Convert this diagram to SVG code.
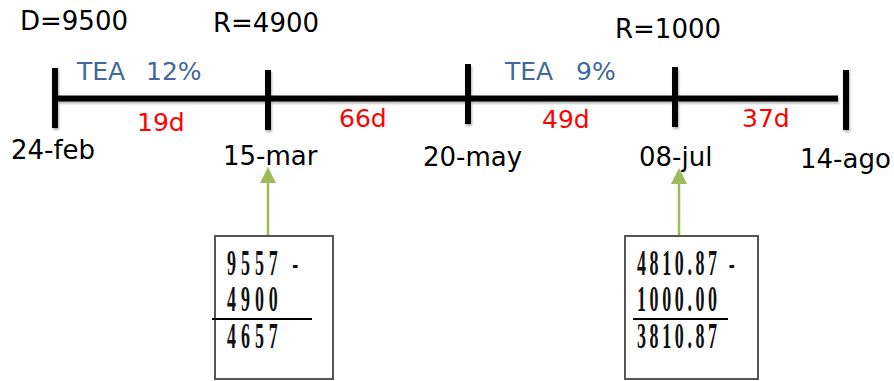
<svg xmlns="http://www.w3.org/2000/svg" width="894" height="381" viewBox="0 0 894 381">
<style>
.lbl{font-family:"DejaVu Sans","Verdana",sans-serif;font-size:26px;fill:#000}
.tea{font-family:"DejaVu Sans","Verdana",sans-serif;font-size:25px;fill:#41689B}
.day{font-family:"DejaVu Sans","Verdana",sans-serif;font-size:25px;fill:#FF0000}
.num{font-family:"Liberation Serif","Times New Roman",serif;font-size:24px;font-weight:bold;fill:#111}
.tl{stroke:#000;stroke-width:6;fill:none}
.box{fill:#fff;stroke:#555;stroke-width:2}
.rule{stroke:#000;stroke-width:2}
.arr{stroke:#9BBB59;stroke-width:2.5;fill:none}
.head{fill:#9BBB59}
</style>
<defs>
<filter id="sh" x="-10%" y="-10%" width="130%" height="140%">
<feDropShadow dx="1" dy="2" stdDeviation="1.2" flood-color="#000" flood-opacity="0.3"/>
</filter>
</defs>
<g id="timeline" filter="url(#sh)">
<line class="tl" x1="55" y1="98.5" x2="838" y2="98.5"/>
<line class="tl" x1="55" y1="68" x2="55" y2="128"/>
<line class="tl" x1="268" y1="70" x2="268" y2="130"/>
<line class="tl" x1="468" y1="64" x2="468" y2="124"/>
<line class="tl" x1="675" y1="67" x2="675" y2="127"/>
<line class="tl" x1="846" y1="70" x2="846" y2="130"/>
</g>
<g id="labels">
<text class="lbl" x="20" y="30">D=9500</text>
<text class="lbl" x="213" y="32">R=4900</text>
<text class="lbl" x="615" y="38">R=1000</text>
<text class="tea" x="77" y="80">TEA</text>
<text class="tea" x="146" y="80">12%</text>
<text class="tea" x="505" y="80">TEA</text>
<text class="tea" x="576" y="80">9%</text>
<text class="day" x="137" y="131">19d</text>
<text class="day" x="339" y="127">66d</text>
<text class="day" x="542" y="128">49d</text>
<text class="day" x="742" y="127">37d</text>
<text class="lbl" x="11" y="159">24-feb</text>
<text class="lbl" x="223" y="165">15-mar</text>
<text class="lbl" x="423" y="166">20-may</text>
<text class="lbl" x="639" y="166">08-jul</text>
<text class="lbl" x="800" y="168">14-ago</text>
</g>
<g id="connectors">
<line class="arr" x1="268" y1="236" x2="268" y2="181"/>
<polygon class="head" points="268,167 260,183 276,183"/>
<line class="arr" x1="679" y1="236" x2="679" y2="181"/>
<polygon class="head" points="679,168 671,184 687,184"/>
</g>
<g id="box1">
<rect class="box" x="215" y="236" width="118" height="143"/>
<text class="num" transform="translate(227,275) scale(0.75,1.45)" letter-spacing="6.6">9557 -</text>
<text class="num" transform="translate(227,311) scale(0.75,1.45)" letter-spacing="6.6">4900</text>
<line class="rule" x1="212" y1="319" x2="312" y2="319"/>
<text class="num" transform="translate(227,348) scale(0.75,1.45)" letter-spacing="6.6">4657</text>
</g>
<g id="box2">
<rect class="box" x="625" y="236" width="133" height="143"/>
<text class="num" transform="translate(637,275) scale(0.75,1.45)" letter-spacing="4.8">4810.87 -</text>
<text class="num" transform="translate(637,311) scale(0.75,1.45)" letter-spacing="4.8">1000.00</text>
<line class="rule" x1="633" y1="319" x2="728" y2="319"/>
<text class="num" transform="translate(637,348) scale(0.75,1.45)" letter-spacing="4.8">3810.87</text>
</g>
</svg>
